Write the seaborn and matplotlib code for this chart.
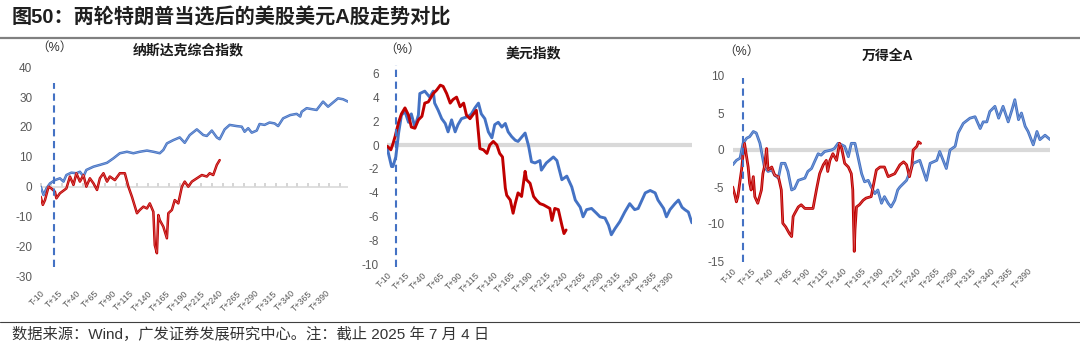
import pandas as pd
import seaborn as sns
import matplotlib.pyplot as plt

# 纳斯达克综合指数 (%), x = 距当选日的天数
nas16_day = [-10, -6, -2, 3, 10, 17, 22, 26, 33, 40, 45, 50, 54, 64, 73, 83, 92, 101, 111, 120,
             129, 139, 148, 157, 162, 167, 176, 185, 192, 199, 209, 218, 223, 230, 237, 241, 248,
             255, 265, 272, 276, 281, 286, 293, 297, 304, 311, 318, 323, 330, 340, 349, 354, 356,
             363, 372, 377, 386, 393, 400, 407, 414, 421]
nas16_val = [0, -2.8, -0.6, 1.1, 2.2, 2.8, 1.7, 3.9, 4.7, 4.5, 5.0, 3.4, 5.6, 6.7, 7.3, 8.0, 9.5,
             11.2, 11.7, 11.2, 11.7, 12.1, 11.7, 11.2, 12.3, 14.5, 15.6, 16.5, 14.7, 17.3, 19.2,
             17.3, 17.0, 18.8, 16.5, 15.9, 19.2, 20.7, 20.3, 20.1, 18.4, 19.6, 18.1, 18.8, 21.0,
             20.7, 21.5, 21.2, 20.3, 22.9, 24.0, 24.4, 23.5, 25.1, 26.3, 25.9, 25.7, 28.5, 26.8,
             28.2, 29.6, 29.3, 28.5]
nas24_day = [-10, -7, -4, 1, 5, 10, 12, 17, 26, 31, 36, 40, 45, 50, 54, 59, 64, 69, 73, 78, 83,
             87, 94, 101, 108, 113, 118, 125, 129, 134, 139, 143, 148, 150, 153, 155, 157, 162,
             167, 169, 174, 178, 183, 188, 192, 197, 202, 209, 216, 223, 227, 232, 237, 241]
nas24_val = [-3.4, -6.1, -4.5, 0, -0.6, -1.7, -3.9, -2.2, -0.6, 3.4, 0.6, 4.5, 1.7, 3.9, 0, 2.8,
             1.1, -1.1, 2.8, 4.5, 1.7, 3.4, 2.2, 4.5, 4.5, 0, -3.4, -8.9, -7.8, -6.7, -7.3, -5.6,
             -8.4, -19.6, -22.3, -9.5, -11.2, -13.4, -17.3, -8.9, -7.8, -4.5, -5.6, 0, 1.7, 0, 1.7,
             2.8, 3.9, 3.4, 4.5, 3.9, 7.3, 8.9]

# 美元指数 (%)
usd16_day = [-10, -4, -2, 2, 6, 10, 15, 20, 24, 29, 34, 36, 43, 50, 55, 57, 62, 67, 72, 76, 81,
             86, 90, 95, 105, 109, 114, 119, 123, 128, 133, 138, 142, 147, 152, 157, 161, 166,
             171, 175, 185, 190, 194, 199, 206, 208, 215, 225, 230, 237, 244, 251, 256, 263, 267,
             272, 279, 286, 291, 298, 303, 307, 312, 319, 326, 333, 340, 345, 355, 362, 369, 373,
             381, 385, 390, 397, 402, 407, 411, 416, 421]
usd16_val = [-0.3, -1.8, -1.8, -1.0, 1.0, 2.5, 2.8, 1.9, 2.6, 1.5, 2.5, 4.3, 4.5, 4.0, 4.5, 3.5,
             2.9, 2.2, 1.8, 1.1, 2.1, 1.1, 1.7, 2.2, 2.4, 2.6, 3.1, 3.5, 2.6, 2.2, 1.1, 0.6, 1.7,
             1.9, 1.5, 1.8, 1.1, 0.7, 0.4, 0.3, 1.0, -0.1, -1.4, -1.5, -1.3, -2.1, -1.5, -1.0,
             -1.3, -2.9, -2.6, -3.5, -4.6, -5.2, -6.0, -5.4, -5.3, -5.7, -6.0, -6.1, -6.7, -7.5,
             -7.0, -6.4, -5.6, -4.9, -5.4, -5.3, -4.0, -3.8, -4.0, -4.6, -5.3, -6.0, -5.4, -4.9,
             -4.6, -5.2, -5.4, -5.6, -6.5]
usd24_day = [-10, -5, -2, 1, 6, 10, 15, 20, 24, 29, 34, 39, 43, 48, 55, 60, 65, 69, 74, 79, 83,
             88, 93, 98, 102, 107, 112, 116, 121, 126, 131, 135, 140, 145, 149, 153, 157, 159,
             164, 168, 171, 175, 180, 185, 187, 192, 197, 201, 206, 211, 220, 223, 227, 232, 237,
             240, 243]
usd24_val = [-0.1, -0.4, 0.1, 0.7, 1.9, 2.6, 3.1, 2.5, 1.5, 1.4, 2.1, 2.4, 3.5, 3.6, 4.3, 4.6,
             5.0, 4.9, 4.3, 3.5, 3.8, 4.0, 3.2, 3.5, 2.5, 2.2, 2.6, 2.9, -0.3, -0.4, -0.7, 0.0,
             0.3, 0.0, -0.7, -1.0, -3.6, -4.2, -4.6, -5.7, -4.9, -4.0, -4.3, -2.2, -2.9, -3.2,
             -4.3, -4.6, -4.9, -5.0, -5.3, -6.3, -5.3, -5.4, -6.7, -7.4, -7.1]

# 万得全A (%)
wind16_day = [-10, -5, 0, 4, 9, 13, 18, 22, 27, 33, 38, 43, 47, 52, 56, 61, 65, 70, 74, 79, 88,
              92, 97, 101, 106, 110, 115, 124, 128, 133, 138, 142, 147, 151, 156, 160, 165, 169,
              174, 178, 183, 187, 192, 196, 201, 205, 210, 214, 217, 226, 235, 244, 253, 258, 267,
              271, 280, 285, 292, 296, 303, 312, 319, 326, 330, 335, 339, 346, 351, 357, 364, 369,
              373, 378, 382, 387, 391, 398, 403, 407, 414, 421]
wind16_val = [-2.0, -1.4, -1.1, 0.9, 1.6, 1.8, 2.5, 2.3, 0.9, -2.3, -2.9, -2.7, -3.4, -3.8, -1.8,
              -1.8, -2.9, -5.4, -5.2, -4.1, -3.8, -2.9, -2.5, -1.6, -0.5, -0.7, -0.2, 0, 0.2, 0.9,
              0.7, 0.5, -0.9, 0.9, 0.9, -0.9, -3.2, -4.3, -4.1, -5.0, -5.9, -5.4, -7.2, -6.3, -7.2,
              -7.7, -6.8, -5.4, -5.0, -4.1, -1.8, -1.4, -4.1, -1.8, -1.4, -0.2, -2.5, 0, 0.5, 2.3,
              3.6, 4.3, 4.5, 2.9, 3.8, 3.8, 5.2, 5.9, 4.3, 5.9, 3.8, 5.4, 6.8, 4.1, 5.0, 3.2, 2.5,
              0.7, 2.5, 1.4, 2.0, 1.4]
wind24_day = [-10, -7, -5, -3, 0, 2, 4, 6, 11, 13, 15, 18, 20, 24, 29, 31, 33, 36, 38, 43, 47, 52,
              56, 58, 62, 67, 70, 72, 74, 79, 83, 88, 99, 104, 108, 113, 117, 119, 122, 126, 131,
              135, 138, 142, 147, 151, 153, 155, 156, 158, 162, 167, 171, 178, 185, 190, 196, 201,
              210, 217, 222, 226, 230, 233, 235, 240, 242, 245]
wind24_val = [-5.0, -6.1, -7.0, -6.3, -4.1, -2.7, -0.7, 0.9, -2.3, -4.5, -5.4, -3.6, -6.3, -7.2,
              -5.4, -3.2, -2.3, 0.2, -2.7, -2.3, -3.4, -3.6, -5.4, -9.9, -10.4, -11.3, -11.7, -9.0,
              -8.6, -7.7, -7.4, -7.9, -7.9, -5.2, -3.2, -2.0, -1.4, -2.9, -1.4, -0.5, -1.4, 0.9,
              0.2, -1.8, -2.3, -3.2, -5.4, -13.7, -10.8, -7.7, -7.4, -6.8, -6.5, -6.3, -2.7, -2.3,
              -2.3, -3.6, -3.2, -2.0, -1.6, -2.0, -3.6, -2.3, 0, 0.5, 1.1, 0.9]

panel_titles = ["纳斯达克综合指数", "美元指数", "万得全A"]
y_ticks = [list(range(-30, 41, 10)), list(range(-10, 7, 2)), list(range(-15, 11, 5))]
x_ticks = list(range(-10, 391, 25))
x_labels = [f"T{d:+d}" for d in x_ticks]

BLUE, RED = "#4472C4", "#C00000"

sns.set_theme(style="white")
plt.rcParams["font.family"] = ["Liberation Sans", "Noto Sans CJK SC", "DejaVu Sans"]
plt.rcParams["axes.unicode_minus"] = False

W, H = 1080, 352
fig = plt.figure(figsize=(W / 100, H / 100), dpi=100)


def add_ax(left, right, top, bottom):
    return fig.add_axes([left / W, 1 - bottom / H, (right - left) / W, (bottom - top) / H])


# pixel boxes of the three plot areas
boxes = [(40.7, 348, 67.3, 276.2), (387.3, 691.9, 73.2, 264.7), (732.7, 1050.2, 76, 261)]
series = [(nas16_day, nas16_val, nas24_day, nas24_val),
          (usd16_day, usd16_val, usd24_day, usd24_val),
          (wind16_day, wind16_val, wind24_day, wind24_val)]
mark_day = [8, 2, 4]
mark_span = [(-26.8, 34.6), (-10.2, 6.7), (-15.1, 9.7)]
title_pos = [(188, 50), (533, 53), (887, 56)]
unit_pos = [(54, 48), (402, 50), (741, 52)]
line_w = [1.8, 2.1, 2.0]
# panels 1 and 3 show a faint light core inside the lines
light_core = [True, False, True]

for i, box in enumerate(boxes):
    ax = add_ax(*box)
    d16, v16, d24, v24 = series[i]
    df = pd.concat([
        pd.DataFrame({"day": d16, "value": v16, "term": "2016"}),
        pd.DataFrame({"day": d24, "value": v24, "term": "2024"}),
    ])
    yt = y_ticks[i]
    ax.axhline(0, color="#d9d9d9", lw=1.2 if i == 0 else 3, zorder=0.5)
    sns.lineplot(data=df, x="day", y="value", hue="term", hue_order=["2016", "2024"],
                 palette={"2016": BLUE, "2024": RED}, estimator=None, legend=False,
                 linewidth=line_w[i], ax=ax)
    if light_core[i]:
        sns.lineplot(data=df, x="day", y="value", units="term", estimator=None, color="white",
                     alpha=0.35, linewidth=0.5, legend=False, ax=ax)
    lo, hi = mark_span[i]
    ax.vlines(mark_day[i], lo, hi, colors=BLUE, linestyles=(0, (3.5, 2.2)), lw=1.5, clip_on=False)
    ax.set_xlim(-10, 421)
    ax.set_ylim(yt[0], yt[-1])
    ax.set_yticks(yt)
    ax.set_xticks(x_ticks)
    ax.set_xticklabels(x_labels, rotation=45, ha="right", rotation_mode="anchor")
    ax.tick_params(axis="y", labelsize=8.5, labelcolor="#595959", length=0, pad=6)
    ax.tick_params(axis="x", labelsize=6.3, labelcolor="#595959", length=0,
                   pad=9 if i == 0 else 4)
    ax.set_xlabel("")
    ax.set_ylabel("")
    for s in ax.spines.values():
        s.set_visible(False)
    if i == 0:
        sec = ax.secondary_xaxis(-yt[0] / (yt[-1] - yt[0]))
        sec.set_xticks(list(range(-10, 421, 15)))
        sec.tick_params(axis="x", direction="in", length=3, color="#d0d0d0",
                        labeltop=False, labelbottom=False)
        for s in sec.spines.values():
            s.set_visible(False)
    tx, ty = title_pos[i]
    fig.text(tx / W, 1 - ty / H, panel_titles[i], fontsize=10, fontweight="bold",
             color="#1a1a1a", ha="center", va="center")
    ux, uy = unit_pos[i]
    fig.text(ux / W, 1 - uy / H, "（%）", fontsize=9, color="#333333",
             ha="center", va="center")

fig.text(12 / W, 1 - 17 / H, "图50：两轮特朗普当选后的美股美元A股走势对比",
         fontsize=14.5, fontweight="bold", color="#1f1f1f", va="center")
fig.add_artist(plt.Line2D([0, 1], [1 - 38 / H] * 2, transform=fig.transFigure,
                          color="#808080", lw=1.6))
fig.add_artist(plt.Line2D([0, 1], [1 - 322 / H] * 2, transform=fig.transFigure,
                          color="#404040", lw=0.8))
fig.text(12 / W, 1 - 334 / H, "数据来源：Wind，广发证券发展研究中心。注：截止 2025 年 7 月 4 日",
         fontsize=11, color="#333333", va="center")

fig.savefig("out.png", dpi=100)
